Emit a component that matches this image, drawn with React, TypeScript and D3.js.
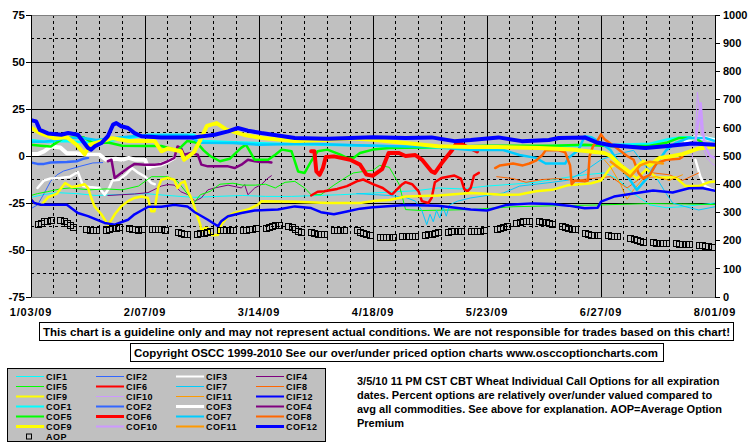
import React from 'react';
import * as d3 from 'd3';

type Pt = [number, number | null];

const xTickDays = [0, 35, 70, 105, 140, 175, 210];
const xTickLabels = ['1/03/09', '2/07/09', '3/14/09', '4/18/09', '5/23/09', '6/27/09', '8/01/09'];
const leftTicks = [-75, -50, -25, 0, 25, 50, 75];
const rightTicks = [0, 100, 200, 300, 400, 500, 600, 700, 800, 900, 1000];

// day offsets from 1/03/09
const CIF1: Pt[] = [[0,-22],[4,-20.5],[8,-19.5],[14,-20],[20,-21],[27,-20.5],[35,-20],[42,-21],[50,-22],[57,-21.5],[65,-21],[72,-21.5],[80,-21.5],[88,-21],[95,-20.6],[105,-19.7],[112,-19],[118,-18.5],[125,-17],[132,-17.5],[140,-16],[148,-15],[155,-14],[162,-12],[170,-10],[176,-9],[180,-12],[185,-20],[190,-26],[195,-27.5],[200,-27],[205,-26],[210,-25]];
const CIF2: Pt[] = [[0,-28],[2,-26],[4,-20],[6,-13.5],[8,-10],[10,-8],[15,-5.5],[19,-3.7],[22,-3.5]];
const CIF3: Pt[] = [[2,-17],[4,-13],[6,-12],[9,-11.7],[12,-11],[14.4,-8.5],[16,-16],[18,-16.5],[21,-17],[22.6,-20.6],[24,-17],[25,-13],[27,-12.6],[29,-10],[31,-6.4],[33,-9],[35,-11],[37,-14.4],[38,-15],[100,null],[204,-2],[205.5,-11],[207,-16],[210,-18.5]];
const CIF4: Pt[] = [[23.6,-21],[27.7,-20.6],[31.8,-20.2],[35.9,-19.5],[40,-16],[42,-15.2],[44,-15.5],[46,-19],[48.2,-20.6],[50.3,-24],[52.3,-22.3],[54.3,-18],[56.4,-17],[60.5,-15.5],[64.6,-17],[65.6,-15.2],[66.6,-20.6],[68.7,-17],[70.7,-15.2],[72.8,-11.7],[73.8,-10.5]];
const CIF5: Pt[] = [[0,-21],[2,-20],[5,-19],[9,-17.5],[12,-17],[18,-18],[23,-17.5],[28,-18],[33,-16],[37,-11],[42,-11],[45,-13.5],[48,-20],[50,-25],[52,-20.6],[55,-18.8],[58,-15],[62,-14.5],[65,-15.5],[69,-15.5],[72,-15],[75,-17],[78,-14],[81,-13.5],[84,-17],[86,-20.6],[89,-20.6],[93,-15.5],[97,-11],[99,-9],[103,-8],[105,-7.6],[107,-5],[110,-6],[113,-15],[115,-28.5],[120,-29],[135,-28.5],[148,-27],[160,-26.5],[175,-26],[190,-25.3],[200,-25.5],[210,-25.8]];
const CIF6: Pt[] = [[86,-21],[88,-19],[90,-18.8],[94,-17.5],[97,-16],[100,-13.5],[102,-12.5],[105,-15],[108,-17],[110.8,-20.6],[114,-15],[115,-13.9],[117,-15],[119,-18.8],[120,-24],[122,-25],[123,-22.3],[124,-14],[126,-11.7],[130,-10.4],[132,-12],[133,-17.5],[134,-18.8],[135,-17],[136,-10.5],[137.5,-9]];
const CIF7: Pt[] = [[100,-20],[105,-20.5],[110,-21],[115,-22],[118,-24],[120,-29],[121.5,-36.5],[122.5,-31],[123.5,-35],[124.5,-29],[125.5,-33],[126.5,-27],[127.5,-32],[128.5,-26],[131,-24],[135,-22.3],[140,-21],[145,-19.7],[150,-16],[155,-15],[160,-14],[165,-12.8],[170,-8],[175,-2],[180,1],[185,3],[188,-4],[192,-11.5],[195,-20],[197,-25],[201,-27],[205,-28.7],[210,-27]];
const CIF8: Pt[] = [[143,-11],[148,-12],[152,-14],[157,-12.5],[162,-12],[167,-13],[172,-12],[178,-11],[183,-17],[187,-12],[191,-9],[196,-10],[200,-13],[205,-9]];
const CIF9: Pt[] = [[0,-23],[1,-25],[3.2,-26],[5.2,-22],[8,-20],[9.3,-17],[10.5,-14.4],[12.5,-16.5],[14.4,-16],[16.5,-15],[17.5,-17],[18.5,-22.3],[19.5,-26.8],[21.6,-31],[23.6,-36.5],[24.7,-34],[25.7,-31],[27.7,-26.8],[29.8,-24],[31.8,-22.3],[33.9,-21.5],[35.9,-22.3],[36.9,-29.4],[37.9,-29.4],[39,-17],[40,-12.6],[42,-11.7],[44,-12.6],[45,-17],[46,-14.4],[47.2,-13.5],[48.2,-19],[49.2,-22.3],[50.3,-27.7],[51.3,-33],[52,-36.5],[52.3,-40],[53.3,-38.3],[54.3,-38.3],[55.4,-42],[57.4,-42],[58.4,-36.5],[60.5,-32],[62.5,-30.3],[66.6,-28.5],[69.7,-25.9],[70.7,-24.1],[81,-24.4],[91,-25],[101,-25],[105,-24],[110,-23.4],[115,-21.5],[125,-21],[135,-19.7],[145,-20.6],[150,-20.5],[155,-18.8],[160,-18],[165,-15.5],[172,-14.5],[175,-13],[178,-6],[180,-4],[183,-8],[186,-12],[189,-7],[192,-11.5],[198,-11.5],[201,-16],[205,-16],[208,-14],[210,-13.5]];
const CIF10: Pt[] = [[203,-1],[204,10],[204.6,34],[205.2,25],[205.8,12],[206.5,4],[207.5,-1],[209,-4],[210,-5]];
const CIF11: Pt[] = [[176,-2],[178,-6],[181,-15],[183,-23],[185,-18],[188,-12],[192,-11],[196,-13],[200,-10]];
const CIF12: Pt[] = [[0,-23],[1,-25],[3,-25.9],[11,-25.9],[14.4,-30.3],[17.5,-32],[22.6,-35.6],[25.7,-36.5],[29.8,-33.9],[31.8,-31],[33.9,-29],[36,-27],[40,-27],[44,-26],[48,-26.8],[50.3,-29.9],[54.3,-33.9],[57.4,-37.4],[58.4,-34.7],[60.5,-32],[64.6,-30.3],[68.7,-29],[75.8,-28.5],[81,-26.8],[86,-27.7],[89,-29.9],[93,-31],[97,-29.5],[101,-28],[105,-27.3],[115,-26],[125,-26.5],[135,-28.5],[140,-29],[146,-26],[154,-25.2],[160,-25.5],[165,-26.4],[170,-27.8],[174,-27.5],[175,-24.3],[179,-21.6],[185,-20],[191,-18.4],[197,-19.4],[202,-17.2],[206,-17],[210,-18.5]];

const COF1: Pt[] = [[0,8.5],[5,7.5],[10,8],[20,7],[28,9],[36,11.3],[50,11.3],[53,8],[60,7.5],[75,6.5],[90,6],[105,5.5],[120,4.5],[135,4],[150,5],[165,5.5],[180,6],[190,6.5],[196,9],[200,10],[205,10],[210,9]];
const COF2: Pt[] = [[0,-3.5],[2,-4.2],[4,-4.2],[6,-3.5],[11,-3.2],[14,-2.8],[16,-1.5],[17.5,-1]];
const COF3: Pt[] = [[0,1],[2,1],[4,2.5],[6,5],[9,4.5],[11,1.5],[14,1.5],[17,0.7],[21,0.7],[23,-2],[26,-1.5],[28,-2],[30,-1],[32,-2],[35,-2],[36,-6.4],[37,-5.5],[40,-4.5],[42,-3],[44,-1],[100,null],[201,8],[204,10],[207,9.5],[210,8.5]];
const COF4: Pt[] = [[23.6,-2.8],[24.7,-2],[25.7,-11.7],[27.7,-9],[29.8,-6.4],[31.8,-4.2],[34.8,-4.6],[37.9,-4.6],[40,-4.2],[42,-2.8],[44,-1],[45,5.1],[46,4.3],[47,0.7],[49.2,1.6],[51.2,0.7],[52.3,-4.6],[54.3,-5.5],[60.5,-5.5],[62.5,-6.4],[64.6,-4.6],[66.6,-2],[68.7,-2.8],[70.7,-3.2],[72.8,-3.2],[73.8,-3.5]];
const COF5: Pt[] = [[0,6],[3,5.5],[6,5],[10,9.6],[16,10],[19,7],[24,7],[28,5.5],[35,5.3],[40,5.3],[45,3],[48,8],[51,7],[53,3],[55,0],[58,-2.8],[61,-1.5],[64.5,4.3],[66,6],[68.7,-2],[72.8,-2],[75,0.7],[77,3.4],[80,2.5],[82,-8.2],[84,-9],[86,-2.8],[88,2.5],[91,3.4],[95,0.7],[97,-1],[99,-1],[101,1.6],[105,3.4],[110,4.3],[120,4.5],[130,5],[140,5.5],[150,5.5],[160,5.5],[170,6],[180,5],[190,5.5],[195,7],[199,9.6],[204,9.6],[207,6],[210,5]];
const COF6: Pt[] = [[86,2.5],[87,2.5],[87.6,-8.2],[88.6,-10],[89.6,-6.5],[90.5,-0.5],[93,-0.2],[98,-2],[101,-4.6],[103,-9.9],[105,-10.5],[107.8,-7],[109.8,1.6],[113,1.6],[115,0],[118,0.5],[120,-1.9],[123,-8.2],[124,-9],[126,-4],[129,2.5],[131,7.8],[133,5.5],[135,4],[137,2.5]];
const COF7: Pt[] = [[0,7.6],[4,7.6],[8,8.5],[11,9.6],[16,9.6],[20,8.5],[28,10],[35,11],[48,11],[52,7],[62,6.9],[70,6],[85,6.5],[100,5.7],[115,5],[122,5],[135,3.2],[145,3.2],[150,0.5],[155,-1],[158,-4],[164,-4],[165,-1],[168,3],[170,10.5],[172,10],[175,7],[178,3],[182,-8],[186,-18],[189,-12],[192,-4],[195,3],[198,7],[202,9.6],[207,9.6],[210,8]];
const COF8: Pt[] = [[142.5,-6.4],[144,-5],[148,-4],[151,-5],[153,-4],[155,-2.5],[157,0.5],[158,3],[162,3],[164,2],[165.5,-5],[166,-15],[167,-13],[170,-13.5],[171,-13],[171.5,0],[172.5,5],[174,8.5],[175,11.5],[176,9],[180,4],[183,0],[185,-2],[186.5,-9],[188,-12],[190,-10],[192,-4],[195,-2],[199,-1.5],[200,-0.5]];
const COF9: Pt[] = [[0,15],[3,12],[7,9.5],[11,10],[14,6],[16.5,1],[18,6],[25,9.5],[30,8],[38,8],[40,2.5],[42,4],[46,2.5],[47,-2],[50,2],[52,8.5],[54,16],[57,17.5],[60,14],[66,11],[71,9.6],[81,8],[90,8.5],[98,9.5],[105,8.7],[115,6.9],[125,5.2],[135,4.8],[143,4.8],[156,4.3],[166,3.4],[176,1.6],[178,0],[181,-5],[184,-9],[186,-6],[188,-3],[190,-5],[193,-1],[197,0],[200,1],[205,4],[210,5]];
const COF10: Pt[] = [[204,8],[205,20],[205.6,28],[206.2,14],[207,5],[208.5,0],[210,-1]];
const COF11: Pt[] = [[178,-3],[181,-7],[184,-11],[187,-5],[190,-3],[194,-4]];
const COF12: Pt[] = [[0,19],[1.6,18.4],[2.7,13.9],[5.2,12],[9.3,11.3],[11.4,12.2],[14.4,11.3],[17.5,4.3],[18.5,3.4],[19.6,5.2],[21.6,6.9],[23.6,10.5],[25.2,16.7],[26.2,17.5],[27.7,15.8],[29.8,14.9],[31.8,12.2],[33.9,10.5],[40,9.9],[50,9.9],[56.4,11.3],[60.5,13.1],[63.5,14.9],[66.6,13.5],[70.7,12.2],[81,9.6],[91,9.2],[105,10],[115,9.6],[123,9.9],[130,7.9],[135,8.5],[143.5,9.9],[150.7,7.9],[159,8.5],[162,9.6],[170,9.9],[174,7],[178,5.7],[188.6,4.3],[194.7,5.2],[203,6.6],[210,6]];

// AOP (right axis), one value per trading day, week by week
const aopValues = [
  258, 264, 268, 270, 272,
  272, 270, 264, 256, 250,
  240, 238, 236, 237,
  238, 241, 245, 245, 248,
  243, 242, 240, 239, 240,
  242, 242, 241, 241, 238,
  229, 226, 224, 222,
  222, 226, 228, 231, 233,
  236, 237, 238, 238, 237,
  238, 239, 240, 242, 244,
  246, 250, 252, 254, 255,
  253, 248, 240, 234, 230,
  230, 228, 225, 223, 222,
  236, 237, 238, 238,
  238, 232, 226, 222, 220,
  214, 213, 212, 212, 213,
  215, 216, 216, 217, 217,
  219, 222, 225, 228, 230,
  232, 233, 234, 235, 235,
  233, 234, 234, 235, 236,
  242, 246, 250, 253,
  262, 265, 268, 270, 270,
  268, 267, 265, 262, 258,
  252, 248, 245, 242, 240,
  226, 222, 220, 219, 219,
  220, 218, 217, 216,
  210, 206, 201, 197, 196,
  194, 192, 191, 190, 190,
  190, 189, 188, 188, 188,
  186, 184, 182, 180, 179,
];
const holidayDays = [16, 44, 97, 142, 181];

const seriesNames = ['CIF1','CIF2','CIF3','CIF4','CIF5','CIF6','CIF7','CIF8','CIF9','CIF10','CIF11','CIF12','COF1','COF2','COF3','COF4','COF5','COF6','COF7','COF8','COF9','COF10','COF11','COF12'];
const seriesData = [CIF1,CIF2,CIF3,CIF4,CIF5,CIF6,CIF7,CIF8,CIF9,CIF10,CIF11,CIF12,COF1,COF2,COF3,COF4,COF5,COF6,COF7,COF8,COF9,COF10,COF11,COF12];
const palette = ['#00FFFF','#3366FF','#FFFFFF','#800080','#00FF00','#FF0000','#00CCFF','#FF6600','#FFFF00','#CC99FF','#FF9900','#0000FF'];
// 0 thin, 1 medium, 2 thick
const weights = [0,0,1,0,0,1,0,0,1,0,0,1, 1,1,2,1,1,2,1,1,2,1,1,2];

const noteLines = [
  '3/5/10 11 PM CST CBT Wheat Individual Call Options for all expiration',
  'dates. Percent options are relatively over/under valued compared to',
  'avg all commodities. See above for explanation. AOP=Average Option',
  'Premium',
];
const disclaimer = 'This chart is a guideline only and may not represent actual conditions. We are not responsible for trades based on this chart!';
const copyright = 'Copyright OSCC 1999-2010 See our over/under priced option charts www.osccoptioncharts.com';

const FONT = '"Liberation Sans", Arial, sans-serif';

export default function App() {
  const L = 31, R = 715, T = 15, B = 297;
  const x = d3.scaleLinear().domain([0, 210]).range([L, R]);
  const yL = d3.scaleLinear().domain([-75, 75]).range([B, T]);
  const yR = d3.scaleLinear().domain([0, 1000]).range([B, T]);

  const line = d3.line<Pt>()
    .defined((p) => p[1] !== null)
    .x((p) => x(p[0]))
    .y((p) => yL(p[1] as number));

  const plotW = [1, 2.5, 4];
  const legW = [1, 2, 3];

  const tradingDays: number[] = [];
  for (let d = 0; d <= 210; d++) {
    const wd = (6 + d) % 7;
    if (wd >= 1 && wd <= 5 && !holidayDays.includes(d)) tradingDays.push(d);
  }
  const aop = tradingDays.slice(0, aopValues.length).map((d, i) => [d, aopValues[i]] as [number, number]);

  const weekDays = d3.range(0, 211, 7);
  const hMajor = [-50, -25, 0, 25, 50];
  const hMinor = [-62.5, -37.5, -12.5, 12.5, 37.5, 62.5];

  const legendCols = [16, 96, 176, 256];
  const legendRow0 = 376.5;

  return (
    <svg width={755} height={446} style={{ position: 'absolute', left: 0, top: 0, background: '#fff' }}
      fontFamily={FONT} fontWeight="bold">
      <defs>
        <clipPath id="plotClip"><rect x={L} y={T} width={R - L} height={B - T} /></clipPath>
      </defs>
      <rect x={0} y={0} width={755} height={446} fill="#fff" />
      <rect x={L} y={T} width={R - L} height={B - T} fill="#C0C0C0" />
      {/* grid */}
      {weekDays.filter((d) => d % 35 !== 0).map((d) => (
        <line key={'vm' + d} x1={x(d)} x2={x(d)} y1={T} y2={B} stroke="#000" strokeWidth={1} strokeDasharray="3,3" shapeRendering="crispEdges" />
      ))}
      {hMinor.map((v) => (
        <line key={'hm' + v} x1={L} x2={R} y1={yL(v)} y2={yL(v)} stroke="#000" strokeWidth={1} strokeDasharray="3,3" shapeRendering="crispEdges" />
      ))}
      {xTickDays.slice(1, -1).map((d) => (
        <line key={'vM' + d} x1={x(d)} x2={x(d)} y1={T} y2={B} stroke="#000" strokeWidth={1} shapeRendering="crispEdges" />
      ))}
      {hMajor.map((v) => (
        <line key={'hM' + v} x1={L} x2={R} y1={yL(v)} y2={yL(v)} stroke="#000" strokeWidth={1} shapeRendering="crispEdges" />
      ))}
      <line x1={L} x2={R} y1={T} y2={T} stroke="#808080" shapeRendering="crispEdges" />
      <line x1={L} x2={R} y1={B} y2={B} stroke="#808080" shapeRendering="crispEdges" />
      {/* series */}
      <g clipPath="url(#plotClip)">
        {seriesData.map((data, i) => (
          <path key={seriesNames[i]} d={line(data) || ''} fill="none" stroke={palette[i % 12]}
            strokeWidth={plotW[weights[i]]} strokeLinejoin="round" strokeLinecap="round" />
        ))}
        {aop.map(([d, v], i) => (
          <rect key={'aop' + i} x={Math.round(x(d) - 3) + 0.5} y={Math.round(yR(v) - 3) + 0.5} width={6} height={6} fill="none" stroke="#000" strokeWidth={1} />
        ))}
      </g>
      {/* axes */}
      <line x1={L} x2={L} y1={T} y2={B} stroke="#000" shapeRendering="crispEdges" />
      <line x1={R} x2={R} y1={T} y2={B} stroke="#000" shapeRendering="crispEdges" />
      {leftTicks.map((v) => (
        <g key={'lt' + v}>
          <line x1={L - 5} x2={L} y1={yL(v)} y2={yL(v)} stroke="#000" shapeRendering="crispEdges" />
          <text x={L - 6} y={yL(v)} dy="0.35em" textAnchor="end" fontSize={11.5}>{v}</text>
        </g>
      ))}
      {rightTicks.map((v) => (
        <g key={'rt' + v}>
          <line x1={R} x2={R + 5} y1={yR(v)} y2={yR(v)} stroke="#000" shapeRendering="crispEdges" />
          <text x={R + 8} y={yR(v)} dy="0.35em" textAnchor="start" fontSize={11}>{v}</text>
        </g>
      ))}
      {xTickDays.map((d, i) => (
        <text key={'xt' + d} x={x(d)} y={312} dy="0.35em" textAnchor="middle" fontSize={11} letterSpacing={0.8}>{xTickLabels[i]}</text>
      ))}
      {/* boxes */}
      <rect x={39.5} y={322.5} width={694} height={18} fill="#fff" stroke="#000" />
      <text x={43} y={332} dy="0.35em" fontSize={11} textLength={687} lengthAdjust="spacingAndGlyphs">{disclaimer}</text>
      <rect x={130.5} y={343.5} width={533} height={18} fill="#fff" stroke="#000" />
      <text x={134} y={353} dy="0.35em" fontSize={11} textLength={524} lengthAdjust="spacingAndGlyphs">{copyright}</text>
      {/* legend */}
      <rect x={7.5} y={368.5} width={318} height={73} fill="#C0C0C0" stroke="#000" />
      {seriesNames.map((name, i) => {
        const col = i % 4;
        const row = Math.floor(i / 4);
        const cx = legendCols[col];
        const cy = legendRow0 + row * 10;
        return (
          <g key={'lg' + name}>
            <line x1={cx} x2={cx + 28} y1={cy} y2={cy} stroke={palette[i % 12]} strokeWidth={legW[weights[i]]} />
            <text x={cx + 30} y={cy} dy="0.35em" fontSize={9} letterSpacing={0.5}>{name}</text>
          </g>
        );
      })}
      <rect x={26.5} y={legendRow0 + 60 - 2.5} width={5} height={5} fill="none" stroke="#000" />
      <text x={46} y={legendRow0 + 60} dy="0.35em" fontSize={9} letterSpacing={0.5}>AOP</text>
      {/* note */}
      {noteLines.map((t, i) => (
        <text key={'n' + i} x={357} y={381 + i * 14} dy="0.35em" fontSize={11}>{t}</text>
      ))}
    </svg>
  );
}
